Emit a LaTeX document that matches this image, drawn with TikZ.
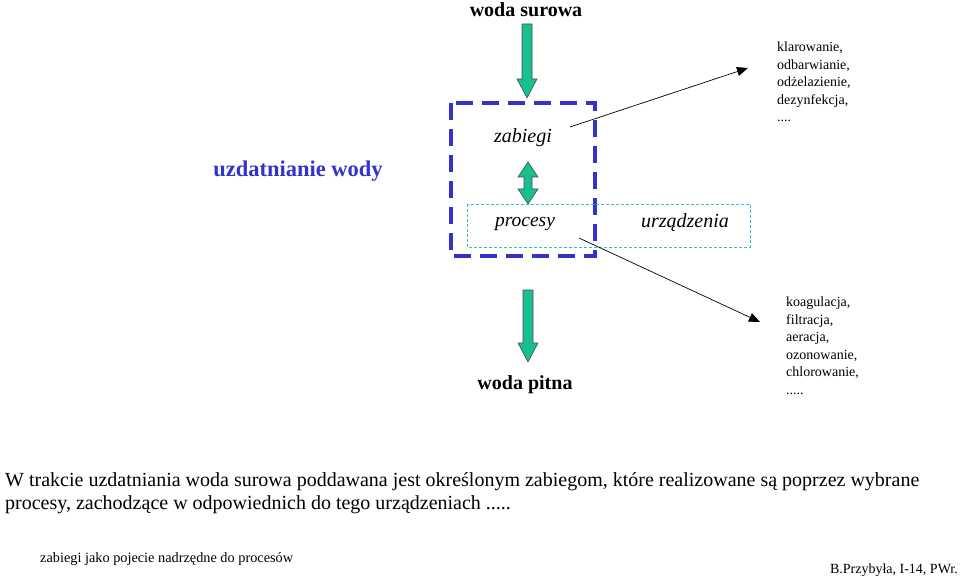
\documentclass[tikz,border=0pt]{standalone}
\usepackage{fontspec}
\setmainfont{Liberation Serif}
\usepackage{tikz}
\usetikzlibrary{positioning,arrows.meta,calc}
\usepackage{xcolor}
\definecolor{jadegreen}{HTML}{19C08F}
\definecolor{frameblue}{HTML}{3333CC}
\definecolor{aqua}{HTML}{33C0C0}

\newcommand{\fsz}[2]{\fontsize{#1}{#2}\selectfont}

\begin{document}
\begin{tikzpicture}[x=1pt,y=-1pt,
  blocktip/.style={fill=jadegreen, draw=black!70, line width=0.6pt, line join=miter},
  lbl/.style={inner sep=0pt, font=\fsz{19}{22}},
  listtxt/.style={inner sep=0pt, anchor=north west, align=left, font=\fsz{14}{17.5}},
  pointer/.style={-{Triangle[length=11pt,width=9pt]}, line width=0.7pt}]
  % page frame, pixel units
  \useasboundingbox (0,0) rectangle (960,577);

  % inputs and outputs
  \node[lbl, font=\fsz{20}{22}\bfseries] (raw) at (526,10) {woda surowa};
  \node[lbl, font=\fsz{20}{22}\bfseries] (potable) at (525,385) {woda pitna};
  \node[lbl, font=\fsz{22.5}{24}\bfseries, text=frameblue] (title) at (298,171) {uzdatnianie wody};

  % frames
  \draw[frameblue, line width=3.5pt, dash pattern=on 17pt off 9pt] (451,103) rectangle (595,256);
  \draw[aqua, line width=0.8pt, dash pattern=on 3pt off 2pt] (467,204) rectangle (750,247);

  \node[lbl, font=\fsz{20}{22}\itshape] (treat) at (523,138) {zabiegi};
  \node[lbl, font=\fsz{19.5}{22}\itshape] (proc) at (525,224) {procesy};
  \node[lbl, font=\fsz{20}{22}\itshape] (devices) at (685,223) {urządzenia};

  % green block arrows
  \filldraw[blocktip] (522,24) -- (532,24) -- (532,79) -- (537,79) -- (527,98)
    -- (517,79) -- (522,79) -- cycle;
  \filldraw[blocktip] (523,290) -- (533,290) -- (533,343) -- (538,343) -- (528,362)
    -- (518,343) -- (523,343) -- cycle;
  \filldraw[blocktip] (528,162) -- (538,177) -- (532,177) -- (532,189) -- (538,189)
    -- (528,204) -- (518,189) -- (524,189) -- (524,177) -- (518,177) -- cycle;

  % lists of examples
  \node[listtxt] (treatlist) at (777,42) {klarowanie,\\odbarwianie,\\odżelazienie,\\dezynfekcja,\\....};
  \node[listtxt] (proclist) at (786,297) {koagulacja,\\filtracja,\\aeracja,\\ozonowanie,\\chlorowanie,\\.....};

  \coordinate (treatend) at (570,127);
  \coordinate (procend) at (579,238);
  \draw[pointer] (treatend) -- ($(treatlist.north west)+(-29,26)$);
  \draw[pointer] (procend) -- ($(proclist.north west)+(-26,25)$);

  % description
  \node[listtxt, font=\fsz{20}{23}] (desc) at (5,472)
    {W trakcie uzdatniania woda surowa poddawana jest określonym zabiegom, które realizowane są poprzez wybrane\\
     procesy, zachodzące w odpowiednich do tego urządzeniach .....};

  % footer
  \node[listtxt, anchor=west, font=\fsz{14.3}{16}] (foot) at (40,559) {zabiegi jako pojecie nadrzędne do procesów};
  \node[listtxt, anchor=east, font=\fsz{14}{16}] (author) at (958,570) {B.Przybyła, I-14, PWr.};
\end{tikzpicture}
\end{document}
